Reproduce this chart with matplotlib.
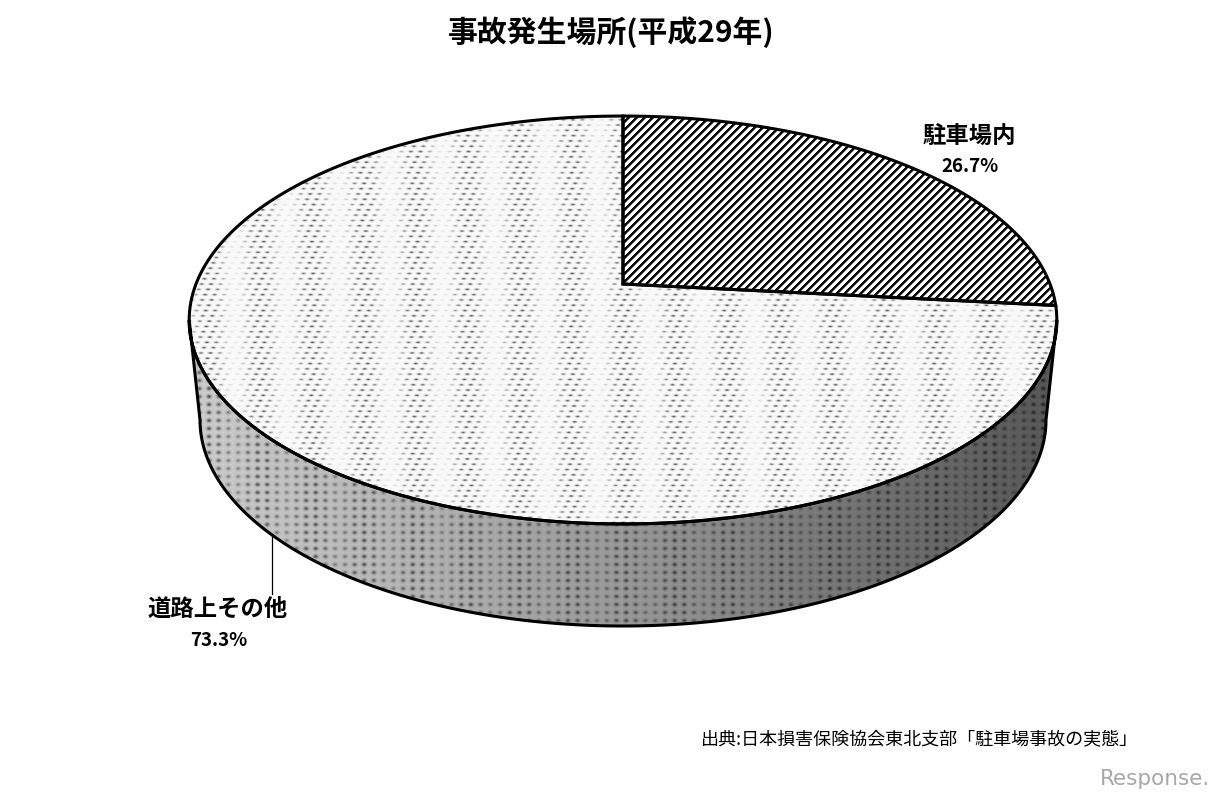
import numpy as np
import matplotlib
matplotlib.use('Agg')
import matplotlib.pyplot as plt
from matplotlib.patches import Polygon

plt.rcParams['font.family'] = ['Noto Sans CJK JP', 'DejaVu Sans']

title = '事故発生場所(平成29年)'
labels = ['駐車場内', '道路上その他']
shares = [26.7, 73.3]
source = '出典:日本損害保険協会東北支部「駐車場事故の実態」'

W, H = 1223, 799
CX, APEX_Y = 623, 284
K = 0.1765

fig = plt.figure(figsize=(W / 100, H / 100), dpi=100)
ax = fig.add_axes([0, 0, 1, 1])
ax.axis('off')


# circle seen in perspective, t runs clockwise from the far side
def project(t):
    w = 1 + K * np.cos(t)
    return CX + 427 * np.sin(t) / w, APEX_Y - 197.6 * np.cos(t) / w


def texture(img, patch, z):
    im = ax.imshow(img, cmap='gray', vmin=0, vmax=1, extent=(0, W, H, 0),
                   interpolation='nearest', zorder=z)
    im.set_clip_path(patch)


# soft dots on a staggered grid, with the beating seen in the scanned hatch
def soft_dots(dx, dy, shift, sx, sy):
    yy, xx = np.mgrid[0:H, 0:W].astype(float)
    row = np.floor(yy / dy)
    u = (xx + row * shift) % dx - dx / 2
    v = yy % dy - dy / 2
    return np.exp(-(u ** 2 / (2 * sx ** 2) + v ** 2 / (2 * sy ** 2))), xx, yy


top_d, xx, yy = soft_dots(9.6, 5.3, 3.0, 1.5, 0.7)
beat = 0.55 + 0.45 * np.cos(2 * np.pi * xx / 52)
dots = 0.975 - 0.62 * beat * top_d

wall_d, _, _ = soft_dots(9.7, 8.0, 0.0, 1.6, 1.3)
shade = np.interp(xx, [190, 420, 620, 850, 1057], [0.80, 0.70, 0.60, 0.46, 0.34])
wall_tex = shade * (1 - 0.6 * (0.5 + 0.5 * beat) * wall_d)

stripes = np.select([(xx + yy) % 8 < 3, (xx + yy) % 8 < 4], [0.05, 0.45], 1.0)

# side wall between the widest points of the top face and a lower ellipse
t_wide = np.arccos(-K)
front = np.linspace(t_wide, 2 * np.pi - t_wide, 300)
top_x, top_y = project(front)
th = np.linspace(0, np.pi, 300)
bot_x = CX - 423 * np.cos(th)
bot_y = 420 + 206 * np.sin(th)
wall = Polygon(np.r_[np.c_[top_x, top_y], np.c_[bot_x, bot_y]], closed=True,
               fc='none', ec='black', lw=2.2, zorder=3)
ax.add_patch(wall)
texture(wall_tex, wall, 1)

# slices of the top face
angle = 2 * np.pi * shares[0] / sum(shares)
t1 = np.linspace(0, angle, 200)
t2 = np.linspace(angle, 2 * np.pi, 400)
s1 = Polygon(np.r_[[(CX, APEX_Y)], np.c_[project(t1)]], closed=True,
             fc='none', ec='black', lw=2.2, zorder=5)
s2 = Polygon(np.r_[[(CX, APEX_Y)], np.c_[project(t2)]], closed=True,
             fc='none', ec='black', lw=2.2, zorder=5)
ax.add_patch(s1)
ax.add_patch(s2)
texture(stripes, s1, 2)
texture(dots, s2, 2)
ax.set_xlim(0, W)
ax.set_ylim(H, 0)

# leader line
ax.plot([272, 272], [534, 594], color='black', lw=0.9, zorder=2)

ax.text(611, 32, title, ha='center', va='center', fontsize=21.5, fontweight='bold')
ax.text(969, 136, labels[0], ha='center', va='center', fontsize=16.8, fontweight='bold')
ax.text(970, 166, f'{shares[0]}%', ha='center', va='center', fontsize=13.5, fontweight='bold')
ax.text(218, 609, labels[1], ha='center', va='center', fontsize=16.8, fontweight='bold')
ax.text(219, 640, f'{shares[1]}%', ha='center', va='center', fontsize=13.5, fontweight='bold')
ax.text(1138, 739, source, ha='right', va='center', fontsize=13)
ax.text(1210, 779, 'Response.', ha='right', va='center', fontsize=15.5, color='#a8a8a8',
        family='DejaVu Sans')

fig.savefig('out.png', dpi=100)
